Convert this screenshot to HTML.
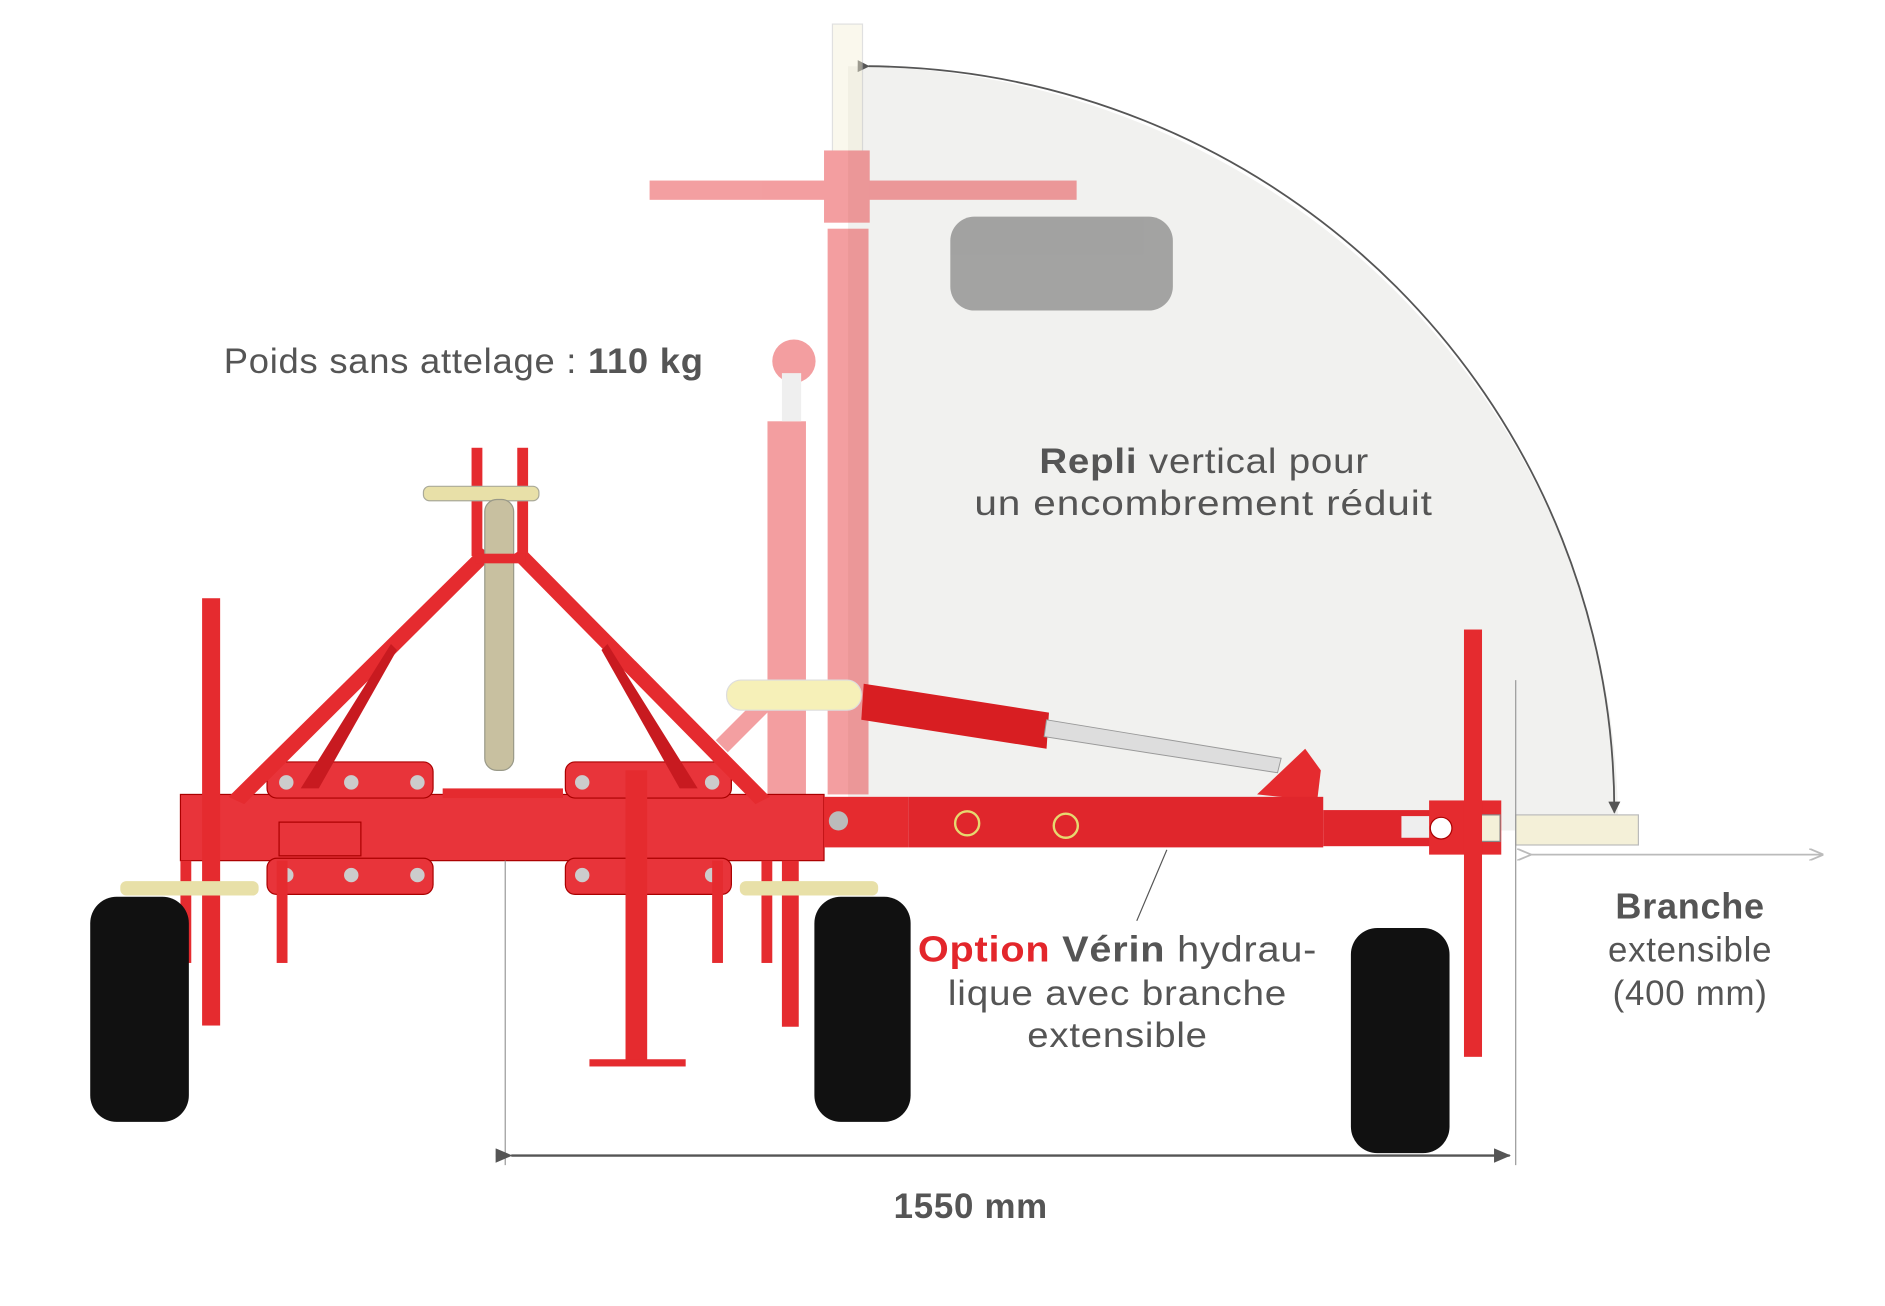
<!DOCTYPE html>
<html><head><meta charset="utf-8"><style>
html,body{margin:0;padding:0;background:#fff;}
svg{display:block;}
text{font-family:"Liberation Sans",sans-serif;fill:#555;letter-spacing:0.6px;}
</style></head><body>
<svg width="1885" height="1306" viewBox="0 0 1567 1085" preserveAspectRatio="none" xmlns="http://www.w3.org/2000/svg">
<defs>
<marker id="ah" markerWidth="10" markerHeight="10" refX="9" refY="5" orient="auto" markerUnits="userSpaceOnUse"><path d="M0,0 L10,5 L0,10 Z" fill="#555"/></marker>
<marker id="ah2" markerWidth="14" markerHeight="12" refX="13" refY="6" orient="auto" markerUnits="userSpaceOnUse"><path d="M0,0 L14,6 L0,12 Z" fill="#555"/></marker>
<marker id="ahl" markerWidth="12" markerHeight="10" refX="11" refY="5" orient="auto" markerUnits="userSpaceOnUse"><path d="M0,0 L12,5 L0,10" fill="none" stroke="#bbb" stroke-width="1.5"/></marker>
</defs>
<path d="M705,690 L705,55 A 640 630 0 0 1 1345,690 Z" fill="#f1f1ef"/>
<path d="M722,55 A 625 620 0 0 1 1342,675" fill="none" stroke="#555" stroke-width="1.5" marker-start="url(#ah)" marker-end="url(#ah)"/>
<g opacity="0.45">
<rect x="692" y="20" width="25" height="150" fill="#f4f0d8" stroke="#bbb"/>
<rect x="540" y="150" width="355" height="16" fill="#e52b2f"/>
<rect x="685" y="125" width="38" height="60" fill="#e52b2f"/>
<rect x="688" y="190" width="34" height="470" fill="#e52b2f"/>
<rect x="638" y="350" width="32" height="310" fill="#e52b2f"/>
<circle cx="660" cy="300" r="18" fill="#e52b2f"/>
<rect x="650" y="310" width="16" height="40" fill="#ddd"/>
<path d="M595,615 L640,570 L650,580 L605,625 Z" fill="#e52b2f"/>
<rect x="790" y="180" width="185" height="78" rx="20" fill="#444"/>
</g>
<rect x="604" y="565" width="112" height="25" rx="12" fill="#f6f0b8" stroke="#ddd"/>
<path d="M718,568 L872,592 L870,622 L716,598 Z" fill="#d81e22"/>
<path d="M870,598 L1065,630 L1062,642 L868,612 Z" fill="#ddd" stroke="#999" stroke-width="0.8"/>
<path d="M1045,660 L1085,622 L1098,640 L1095,665 Z" fill="#e52b2f"/>
<rect x="150" y="660" width="535" height="55" fill="#e8343a" stroke="#a00" stroke-width="1"/>
<rect x="685" y="662" width="70" height="42" fill="#e52b2f"/>
<rect x="755" y="662" width="345" height="42" fill="#e0262c"/>
<rect x="1100" y="673" width="90" height="30" fill="#e0262c"/>
<rect x="1165" y="678" width="25" height="18" fill="#eee"/>
<rect x="1188" y="665" width="60" height="45" fill="#e52b2f"/>
<rect x="1222" y="677" width="25" height="22" fill="#f4f0d8" stroke="#888"/>
<rect x="1260" y="677" width="102" height="25" fill="#f4f0d8" stroke="#bbb"/>
<circle cx="1198" cy="688" r="9" fill="#fff" stroke="#a00"/>
<circle cx="697" cy="682" r="8" fill="#bbb"/>
<circle cx="804" cy="684" r="10" fill="none" stroke="#e6d870" stroke-width="2"/>
<circle cx="886" cy="686" r="10" fill="none" stroke="#e6d870" stroke-width="2"/>
<rect x="222" y="633" width="138" height="30" rx="8" fill="#e8343a" stroke="#a00"/>
<rect x="222" y="713" width="138" height="30" rx="8" fill="#e8343a" stroke="#a00"/>
<rect x="470" y="633" width="138" height="30" rx="8" fill="#e8343a" stroke="#a00"/>
<rect x="470" y="713" width="138" height="30" rx="8" fill="#e8343a" stroke="#a00"/>
<g fill="#ccc"><circle cx="238" cy="650" r="6"/><circle cx="292" cy="650" r="6"/><circle cx="347" cy="650" r="6"/><circle cx="484" cy="650" r="6"/><circle cx="592" cy="650" r="6"/><circle cx="238" cy="727" r="6"/><circle cx="292" cy="727" r="6"/><circle cx="347" cy="727" r="6"/><circle cx="484" cy="727" r="6"/><circle cx="592" cy="727" r="6"/></g>
<rect x="232" y="683" width="68" height="28" fill="none" stroke="#a00"/>
<path d="M190,662 L400,455 L410,462 L203,668 Z" fill="#e52b2f"/>
<path d="M640,662 L435,455 L425,462 L628,668 Z" fill="#e52b2f"/>
<path d="M250,655 L325,535 L330,540 L265,655 Z" fill="#c81a20"/>
<path d="M580,655 L505,535 L500,540 L565,655 Z" fill="#c81a20"/>
<rect x="392" y="372" width="9" height="90" fill="#e52b2f"/>
<rect x="430" y="372" width="9" height="90" fill="#e52b2f"/>
<rect x="352" y="404" width="96" height="12" rx="5" fill="#e8e0a8" stroke="#aa9"/>
<rect x="403" y="415" width="24" height="225" rx="10" fill="#c8c0a0" stroke="#998"/>
<rect x="395" y="460" width="42" height="8" fill="#e52b2f"/>
<rect x="368" y="655" width="100" height="8" fill="#e52b2f"/>
<rect x="168" y="497" width="15" height="355" fill="#e52b2f"/>
<rect x="1217" y="523" width="15" height="355" fill="#e52b2f"/>
<rect x="520" y="640" width="18" height="245" fill="#e52b2f"/>
<rect x="490" y="880" width="80" height="6" fill="#e52b2f"/>
<rect x="150" y="715" width="9" height="85" fill="#e52b2f"/>
<rect x="230" y="715" width="9" height="85" fill="#e52b2f"/>
<rect x="592" y="715" width="9" height="85" fill="#e52b2f"/>
<rect x="633" y="715" width="9" height="85" fill="#e52b2f"/>
<rect x="650" y="715" width="14" height="138" fill="#e52b2f"/>
<rect x="100" y="732" width="115" height="12" rx="5" fill="#e8e0a8"/>
<rect x="615" y="732" width="115" height="12" rx="5" fill="#e8e0a8"/>
<rect x="75" y="745" width="82" height="187" rx="22" fill="#111"/>
<rect x="677" y="745" width="80" height="187" rx="22" fill="#111"/>
<rect x="1123" y="771" width="82" height="187" rx="22" fill="#111"/>
<line x1="970" y1="706" x2="945" y2="765" stroke="#555" stroke-width="1"/>
<line x1="420" y1="715" x2="420" y2="968" stroke="#999" stroke-width="1"/>
<line x1="1260" y1="565" x2="1260" y2="968" stroke="#999" stroke-width="1"/>
<line x1="425" y1="960" x2="1255" y2="960" stroke="#555" stroke-width="2" marker-start="url(#ah2)" marker-end="url(#ah2)"/>
<line x1="1272" y1="710" x2="1515" y2="710" stroke="#bbb" stroke-width="1.5" marker-start="url(#ahl)" marker-end="url(#ahl)"/>
<text x="186" y="310" font-size="29" textLength="399" lengthAdjust="spacingAndGlyphs">Poids sans attelage : <tspan font-weight="bold">110 kg</tspan></text>
<text x="864" y="393" font-size="29" textLength="274" lengthAdjust="spacingAndGlyphs"><tspan font-weight="bold">Repli</tspan> vertical pour</text>
<text x="810" y="428" font-size="29" textLength="381" lengthAdjust="spacingAndGlyphs">un encombrement réduit</text>
<text x="763" y="799" font-size="30" textLength="332" lengthAdjust="spacingAndGlyphs"><tspan font-weight="bold" style="fill:#e3262b">Option</tspan> <tspan font-weight="bold">Vérin</tspan> hydrau-</text>
<text x="788" y="835" font-size="29" textLength="282" lengthAdjust="spacingAndGlyphs">lique avec branche</text>
<text x="854" y="870" font-size="29" textLength="150" lengthAdjust="spacingAndGlyphs">extensible</text>
<text x="1405" y="763" font-size="30" text-anchor="middle" font-weight="bold">Branche</text>
<text x="1405" y="799" font-size="29" text-anchor="middle">extensible</text>
<text x="1405" y="835" font-size="29" text-anchor="middle">(400 mm)</text>
<text x="807" y="1012" font-size="29" text-anchor="middle" font-weight="bold">1550 mm</text>
</svg>
</body></html>
